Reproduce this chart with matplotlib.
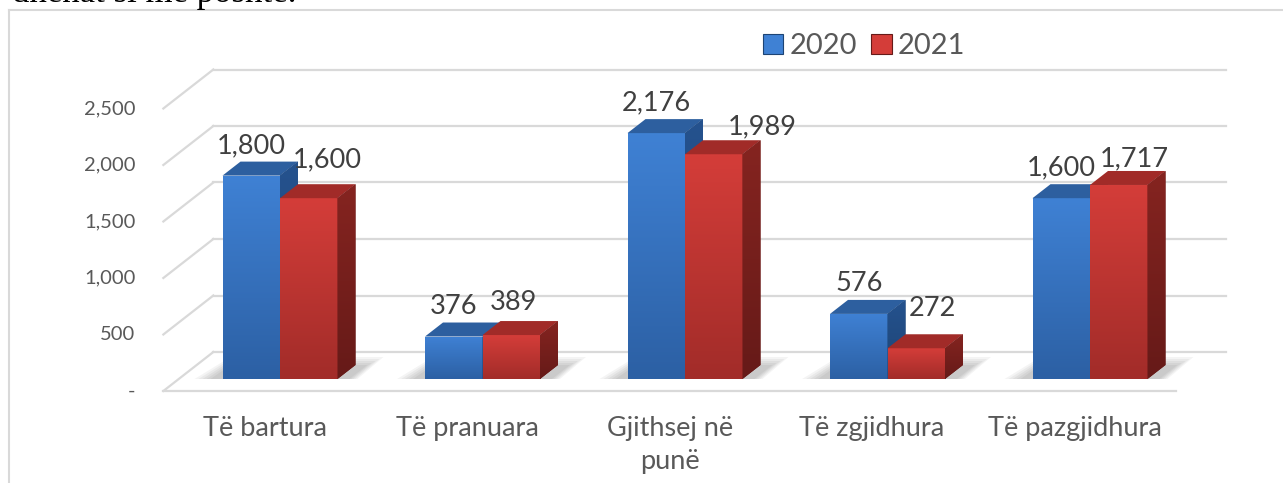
import numpy as np
import matplotlib
matplotlib.use('Agg')
import matplotlib.pyplot as plt
from matplotlib.patches import Polygon, Patch
from matplotlib.colors import to_rgb

# data
categories = ['Të bartura', 'Të pranuara', 'Gjithsej në\npunë', 'Të zgjidhura', 'Të pazgjidhura']
v2020 = [1800, 376, 2176, 576, 1600]
v2021 = [1600, 389, 1989, 272, 1717]
series_names = ['2020', '2021']
yticks = [0, 500, 1000, 1500, 2000, 2500]

# pixel scale of the fake 3d view
PXC = 202.5      # px per category
PXV = 0.113      # px per unit of value
W, H = 1283, 483


def dx(px):
    return px / PXC


def dy(px):
    return px / PXV


bw = dx(57.5)                  # bar width
bar_depth = (dx(18), dy(14))
front = (dx(-15.4), dy(-12))   # floor front edge, relative to bar plane
back = (dx(34.6), dy(27))      # back wall, relative to bar plane

colors = {
    '2020': dict(ft='#3f81d4', fb='#2c60a4', top='#2d5f9f', st='#25528e', sb='#1d4474'),
    '2021': dict(ft='#d43d39', fb='#a22c29', top='#a12b28', st='#852420', sb='#661a18'),
}
grid_c = '#d9d9d9'
text_c = '#595959'

plt.rcParams['font.family'] = ['Lato', 'DejaVu Sans']

fig = plt.figure(figsize=(W / 100, H / 100), dpi=100)
ax = fig.add_axes([0, 0, 1, 1])
ax.axis('off')
xlim = (-280 / PXC, (W - 280) / PXC)
ylim = (-(H - 379) / PXV, 379 / PXV)


def grad_fill(patch, c1, c2, z):
    # vertical gradient clipped to a patch
    if isinstance(patch, Polygon):
        verts = patch.get_path().vertices
        x0, y0 = verts.min(axis=0)
        x1, y1 = verts.max(axis=0)
    else:
        x0, y0 = patch.get_xy()
        x1, y1 = x0 + patch.get_width(), y0 + patch.get_height()
    n = 64
    a, b = np.array(to_rgb(c1)), np.array(to_rgb(c2))
    t = np.linspace(0, 1, n)[:, None]
    img = (a * (1 - t) + b * t)[:, None, :]
    im = ax.imshow(img, extent=[x0, x1, y0, y1], origin='upper', aspect='auto',
                   interpolation='bilinear', zorder=z)
    im.set_clip_path(patch)


# chart frame
ax.plot([9 / W, 9 / W], [0, 1 - 10 / H], color=grid_c, lw=1.5, transform=ax.transAxes)
ax.plot([9 / W, 1], [1 - 10 / H, 1 - 10 / H], color=grid_c, lw=1.5, transform=ax.transAxes)

# cropped document text above the chart
ax.text(12 / W, 1 - 10 / H, 'dhënat si më poshtë.', transform=ax.transAxes,
        family='Liberation Serif', fontsize=25, color='black', va='bottom', ha='left')

# gridlines: back wall + side wall
xl, xr = -0.5, len(categories) - 0.5
for v in yticks:
    ax.plot([xl + back[0], xr + back[0]], [v + back[1], v + back[1]], color=grid_c, lw=1.6, zorder=1)
    ax.plot([xl + front[0], xl + back[0]], [v + front[1], v + back[1]], color=grid_c, lw=1.6, zorder=1)
    lab = '-' if v == 0 else f'{v:,}'
    ax.annotate(lab, (xl + front[0], v + front[1]), xytext=(-28, 0), textcoords='offset pixels',
                ha='right', va='center', fontsize=14.5, color=text_c)
# floor front edge
ax.plot([xl + front[0], xr + front[0]], [front[1], front[1]], color=grid_c, lw=1.6, zorder=1)

x = np.arange(len(categories))

# floor shadows
for i in x:
    L = i - bw
    R = i + bw + bar_depth[0]
    for k in range(5):
        s = k * 4
        shadow = Polygon([(L - dx(28 - s), 0), (R + dx(2 - s / 2), 0),
                          (R + dx(28 - s), dy(22 - s / 2)), (L + dx(8), dy(22 - s / 2))],
                         closed=True, facecolor='#000000', alpha=0.045, edgecolor='none', zorder=2)
        ax.add_patch(shadow)

# bars
for name, vals, off in [('2020', v2020, -1), ('2021', v2021, 0)]:
    c = colors[name]
    bars = ax.bar(x + off * bw, vals, width=bw, align='edge', color=c['fb'],
                  edgecolor='none', zorder=3 if name == '2020' else 6)
    for b, v in zip(bars, vals):
        z = b.get_zorder()
        grad_fill(b, c['ft'], c['fb'], z)
        bx0 = b.get_x()
        bx1 = bx0 + b.get_width()
        top = Polygon([(bx0, v), (bx1, v), (bx1 + bar_depth[0], v + bar_depth[1]),
                       (bx0 + bar_depth[0], v + bar_depth[1])], closed=True,
                      facecolor=c['top'], edgecolor='none', zorder=z + 1)
        ax.add_patch(top)
        side = Polygon([(bx1, 0), (bx1 + bar_depth[0], bar_depth[1]),
                        (bx1 + bar_depth[0], v + bar_depth[1]), (bx1, v)], closed=True,
                       facecolor=c['sb'], edgecolor='none', zorder=z + 1)
        ax.add_patch(side)
        grad_fill(side, c['st'], c['sb'], z + 1)

# value labels
red_dx = [19, 2, 49, 16, 16]
red_dy = [38, 33, 27, 40, 26]
for i, v in enumerate(v2020):
    ax.annotate(f'{v:,}', (i - bw / 2, v), xytext=(0, 30), textcoords='offset pixels',
                ha='center', va='center', fontsize=19.5, color='#404040', zorder=10)
for i, v in enumerate(v2021):
    ax.annotate(f'{v:,}', (i + bw / 2, v), xytext=(red_dx[i], red_dy[i]), textcoords='offset pixels',
                ha='center', va='center', fontsize=19.5, color='#404040', zorder=10)

# category labels
for i, cat in enumerate(categories):
    ax.annotate(cat, (i + front[0], front[1]), xytext=(0, -25), textcoords='offset pixels',
                ha='center', va='top', fontsize=19.5, color=text_c, linespacing=1.42)

# legend
handles = [Patch(facecolor=colors[n]['ft'], edgecolor=colors[n]['sb'], lw=0.8) for n in series_names]
ax.legend(handles, series_names, loc='center', bbox_to_anchor=(864 / W, 1 - 46 / H), ncol=2,
          frameon=False, fontsize=21, labelcolor=text_c, handlelength=0.7, handleheight=0.7,
          handletextpad=0.2, columnspacing=0.5, borderaxespad=0)

ax.set_xlim(*xlim)
ax.set_ylim(*ylim)
fig.savefig('out.png', dpi=100)
